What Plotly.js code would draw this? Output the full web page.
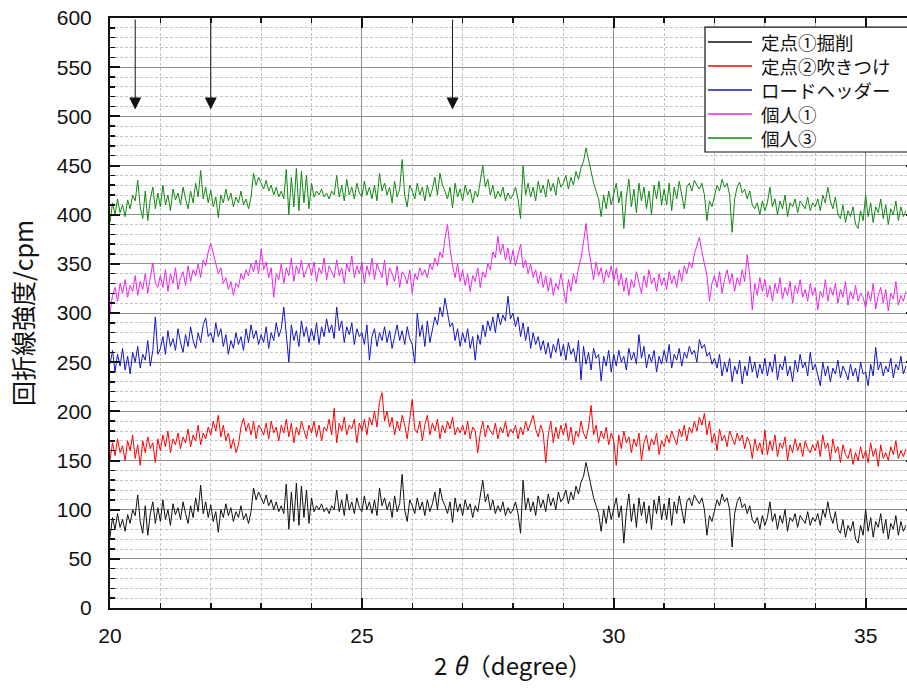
<!DOCTYPE html>
<html>
<head>
<meta charset="utf-8">
<script src="https://cdn.plot.ly/plotly-3.0.1.min.js"></script>
<style>
html, body { margin: 0; padding: 0; overflow: hidden; background: #fff; }
#chart { width: 920px; height: 690px; }
</style>
</head>
<body>
<div id="chart"></div>
<script>
// x grid of the scan (degrees 2θ)
const xStart = 20.0;
const xStep = 0.05;

// 定点①掘削 (black)
const seriesTeiten1 = [
72, 92, 80, 96, 82, 90, 78, 95, 86, 100, 94, 115, 88, 76, 104, 74, 96, 108, 86, 102,
88, 110, 90, 100, 84, 106, 95, 102, 90, 108, 96, 86, 104, 92, 112, 98, 125, 96, 108, 92,
105, 88, 98, 77, 100, 92, 106, 94, 102, 88, 98, 92, 104, 90, 96, 86, 98, 122, 110, 118,
112, 106, 115, 104, 110, 100, 108, 98, 104, 96, 126, 80, 118, 88, 127, 84, 124, 92, 120, 86,
112, 98, 104, 100, 106, 98, 102, 96, 104, 100, 120, 98, 110, 94, 116, 100, 108, 96, 112, 102,
98, 114, 100, 108, 96, 110, 94, 122, 104, 112, 100, 108, 92, 114, 98, 106, 136, 100, 88, 110,
104, 96, 112, 100, 108, 94, 110, 98, 106, 118, 100, 122, 110, 104, 96, 108, 87, 112, 98, 106,
94, 110, 100, 106, 92, 104, 98, 112, 130, 108, 116, 100, 110, 96, 104, 98, 108, 94, 102, 96,
100, 108, 96, 76, 130, 100, 112, 98, 108, 94, 114, 102, 110, 98, 116, 104, 112, 100, 118, 108,
112, 120, 106, 118, 110, 124, 116, 128, 134, 148, 136, 122, 112, 104, 96, 78, 100, 86, 104, 90,
100, 112, 92, 104, 66, 98, 116, 88, 106, 82, 112, 94, 108, 86, 104, 80, 110, 96, 114, 90,
106, 90, 112, 84, 108, 96, 114, 100, 86, 108, 112, 104, 115, 110, 106, 112, 100, 74, 94, 88,
98, 110, 104, 116, 108, 112, 100, 62, 96, 108, 113, 102, 106, 96, 104, 90, 86, 92, 80, 94,
84, 92, 108, 88, 96, 80, 94, 86, 100, 78, 92, 88, 96, 82, 94, 90, 86, 98, 84, 92,
88, 96, 84, 100, 92, 108, 94, 86, 98, 80, 76, 90, 72, 84, 78, 88, 70, 66, 84, 74,
100, 78, 92, 72, 88, 82, 96, 76, 90, 70, 86, 80, 94, 74, 88, 78, 84
];

// 定点②吹きつけ (red)
const seriesTeiten2 = [
150, 168, 155, 172, 158, 165, 150, 170, 160, 176, 152, 166, 145, 170, 158, 174, 162, 168, 148, 172,
160, 176, 164, 180, 158, 172, 166, 178, 162, 174, 168, 182, 164, 176, 170, 186, 166, 178, 172, 184,
176, 190, 180, 196, 174, 186, 170, 178, 162, 172, 158, 166, 184, 193, 180, 188, 176, 190, 172, 186,
182, 176, 188, 172, 190, 178, 184, 170, 186, 178, 192, 174, 188, 168, 184, 176, 190, 180, 172, 186,
178, 190, 174, 186, 170, 184, 180, 192, 176, 203, 168, 188, 180, 194, 176, 186, 182, 192, 168, 188,
180, 192, 176, 194, 186, 200, 184, 210, 219, 190, 200, 184, 194, 176, 190, 180, 196, 186, 172, 192,
212, 182, 178, 190, 170, 186, 196, 176, 188, 180, 192, 172, 186, 178, 190, 182, 194, 176, 184, 178,
186, 176, 190, 172, 184, 180, 158, 178, 190, 174, 186, 180, 176, 188, 172, 184, 178, 190, 174, 182,
178, 186, 172, 184, 176, 190, 180, 188, 196, 182, 174, 186, 178, 148, 176, 190, 168, 184, 172, 186,
176, 188, 170, 184, 166, 180, 174, 190, 178, 172, 184, 206, 176, 186, 168, 180, 172, 184, 166, 178,
170, 145, 176, 162, 180, 168, 174, 158, 172, 164, 178, 150, 168, 176, 160, 172, 166, 178, 156, 170,
164, 176, 168, 180, 172, 166, 182, 174, 186, 170, 184, 178, 190, 180, 194, 186, 198, 176, 190, 168,
178, 160, 182, 170, 176, 164, 180, 172, 166, 178, 170, 176, 162, 174, 168, 152, 172, 160, 168, 156,
181, 156, 170, 160, 176, 154, 168, 162, 174, 150, 166, 158, 172, 160, 168, 154, 170, 162, 158, 166,
160, 170, 154, 176, 162, 168, 150, 172, 158, 164, 148, 166, 156, 152, 162, 146, 158, 150, 164, 152,
160, 148, 168, 154, 162, 144, 166, 152, 158, 150, 164, 156, 170, 152, 160, 154, 162
];

// ロードヘッダー (blue)
const seriesRoadHeader = [
248, 262, 240, 258, 246, 264, 242, 256, 238, 260, 250, 266, 244, 258, 252, 272, 246, 262, 296, 258,
264, 276, 258, 282, 266, 274, 262, 284, 270, 260, 278, 266, 286, 272, 264, 280, 270, 288, 295, 276,
280, 270, 290, 276, 284, 266, 278, 258, 272, 264, 280, 268, 276, 262, 284, 270, 288, 274, 282, 268,
278, 270, 286, 264, 280, 272, 290, 276, 284, 306, 278, 250, 288, 272, 282, 266, 292, 276, 286, 270,
284, 272, 290, 268, 286, 276, 294, 280, 288, 274, 306, 282, 292, 270, 286, 278, 290, 268, 284, 276,
280, 268, 288, 252, 276, 284, 266, 280, 272, 286, 270, 282, 264, 278, 288, 272, 282, 268, 286, 274,
268, 249, 300, 276, 288, 266, 292, 270, 284, 296, 288, 306, 296, 315, 300, 286, 290, 272, 284, 266,
280, 270, 284, 264, 276, 252, 278, 268, 288, 276, 292, 282, 296, 280, 300, 288, 298, 292, 317, 294,
300, 286, 296, 276, 290, 272, 286, 264, 280, 268, 276, 262, 272, 258, 270, 254, 268, 260, 274, 256,
268, 252, 270, 258, 264, 250, 272, 232, 266, 248, 260, 242, 264, 254, 258, 231, 256, 246, 262, 240,
258, 246, 262, 250, 256, 242, 264, 252, 260, 248, 278, 254, 266, 244, 258, 250, 262, 240, 256, 248,
262, 250, 268, 244, 258, 252, 264, 246, 260, 254, 266, 258, 262, 250, 273, 264, 268, 256, 260, 248,
254, 244, 258, 236, 250, 240, 254, 230, 246, 238, 252, 228, 246, 236, 256, 240, 250, 234, 248, 238,
254, 236, 250, 240, 258, 232, 248, 242, 256, 236, 246, 230, 252, 240, 258, 244, 250, 236, 260, 242,
248, 238, 226, 250, 236, 246, 230, 244, 238, 252, 234, 246, 240, 232, 248, 236, 244, 230, 250, 238,
240, 226, 248, 236, 265, 242, 250, 236, 246, 240, 254, 234, 248, 242, 256, 238, 246
];

// 個人① (magenta)
const seriesKojin1 = [
300, 318, 326, 312, 330, 320, 334, 316, 328, 322, 338, 318, 332, 324, 340, 320, 336, 351, 330, 326,
338, 326, 344, 322, 340, 330, 346, 324, 336, 342, 328, 348, 332, 344, 338, 350, 336, 354, 348, 362,
371, 360, 352, 340, 346, 330, 336, 324, 332, 318, 330, 326, 340, 334, 344, 338, 350, 342, 354, 340,
365, 344, 352, 336, 346, 316, 340, 334, 350, 330, 346, 338, 356, 332, 348, 340, 354, 336, 344, 350,
338, 352, 332, 346, 340, 356, 334, 348, 342, 336, 354, 338, 346, 330, 350, 342, 358, 336, 348, 340,
352, 330, 348, 338, 356, 334, 350, 342, 336, 354, 328, 346, 340, 332, 348, 326, 342, 338, 330, 344,
320, 340, 334, 346, 338, 344, 336, 350, 344, 356, 348, 362, 356, 376, 390, 366, 348, 336, 350, 332,
344, 328, 340, 322, 338, 332, 346, 326, 342, 336, 350, 344, 362, 356, 378, 360, 370, 354, 366, 350,
364, 348, 358, 370, 346, 354, 340, 350, 336, 344, 330, 342, 326, 338, 322, 336, 318, 330, 324, 340,
326, 310, 334, 322, 340, 330, 346, 356, 372, 391, 366, 348, 334, 352, 338, 346, 330, 344, 336, 348,
332, 346, 328, 340, 322, 336, 318, 334, 326, 342, 330, 320, 338, 326, 344, 330, 336, 322, 340, 328,
336, 324, 342, 330, 338, 326, 344, 332, 348, 340, 352, 346, 360, 370, 377, 362, 350, 338, 312, 330,
338, 326, 342, 320, 334, 344, 330, 340, 322, 336, 328, 344, 332, 359, 338, 303, 330, 318, 336, 322,
334, 316, 328, 312, 330, 320, 336, 314, 326, 318, 332, 310, 328, 320, 334, 316, 324, 312, 330, 318,
326, 303, 322, 316, 334, 312, 326, 318, 330, 310, 324, 316, 332, 308, 322, 314, 328, 312, 320, 316,
305, 322, 312, 330, 304, 318, 326, 310, 324, 302, 320, 314, 332, 308, 318, 312, 322
];

// 個人③ (green)
const seriesKojin3 = [
392, 412, 400, 416, 402, 410, 398, 415, 406, 420, 414, 435, 408, 396, 424, 394, 416, 428, 406, 422,
408, 430, 410, 420, 404, 426, 415, 422, 410, 428, 416, 406, 424, 412, 432, 418, 445, 416, 428, 412,
425, 408, 418, 397, 420, 412, 426, 414, 422, 408, 418, 412, 424, 410, 416, 406, 418, 442, 430, 438,
432, 426, 435, 424, 430, 420, 428, 418, 424, 416, 446, 400, 438, 408, 447, 404, 444, 412, 440, 406,
432, 418, 424, 420, 426, 418, 422, 416, 424, 420, 440, 418, 430, 414, 436, 420, 428, 416, 432, 422,
418, 434, 420, 428, 416, 430, 414, 442, 424, 432, 420, 428, 412, 434, 418, 426, 456, 420, 408, 430,
424, 416, 432, 420, 428, 414, 430, 418, 426, 438, 420, 442, 430, 424, 416, 428, 407, 432, 418, 426,
414, 430, 420, 426, 412, 424, 418, 432, 450, 428, 436, 420, 430, 416, 424, 418, 428, 414, 422, 416,
420, 428, 416, 396, 450, 420, 432, 418, 428, 414, 434, 422, 430, 418, 436, 424, 432, 420, 438, 428,
432, 440, 426, 438, 430, 444, 436, 448, 454, 468, 456, 442, 432, 424, 416, 398, 420, 406, 424, 410,
420, 432, 412, 424, 386, 418, 436, 408, 426, 402, 432, 414, 428, 406, 424, 400, 430, 416, 434, 410,
426, 410, 432, 404, 428, 416, 434, 420, 406, 428, 432, 424, 435, 430, 426, 432, 420, 394, 414, 408,
418, 430, 424, 436, 428, 432, 420, 382, 416, 428, 433, 422, 426, 416, 424, 410, 406, 412, 400, 414,
404, 412, 428, 408, 416, 400, 414, 406, 420, 398, 412, 408, 416, 402, 414, 410, 406, 418, 404, 412,
408, 416, 404, 420, 412, 428, 414, 406, 418, 400, 396, 410, 392, 404, 398, 408, 390, 386, 404, 394,
420, 398, 412, 392, 408, 402, 416, 396, 410, 390, 406, 400, 414, 394, 408, 398, 404
];

const seriesNames = ['定点①掘削', '定点②吹きつけ', 'ロードヘッダー', '個人①', '個人③'];
const seriesColors = ['#111111', '#ff0000', '#1414c8', '#ee22ee', '#118811'];
const seriesData = [seriesTeiten1, seriesTeiten2, seriesRoadHeader, seriesKojin1, seriesKojin3];

// peak marker arrows (2θ positions), drawn from top of frame down to tip level
const arrowPositions = [20.5, 22.0, 26.8];
const arrowTop = 600;
const arrowTip = 507;

const xTickVals = [20, 25, 30, 35];
const yTickVals = [0, 50, 100, 150, 200, 250, 300, 350, 400, 450, 500, 550, 600];

const xs = seriesTeiten1.map((_, i) => +(xStart + i * xStep).toFixed(2));

const traces = seriesData.map((ys, k) => ({
  type: 'scatter',
  mode: 'lines',
  x: xs,
  y: ys,
  name: seriesNames[k],
  line: { color: seriesColors[k], width: 1 },
  showlegend: false,
  hoverinfo: 'skip'
}));

// Boxed legend in paper coordinates (as in the original figure)
const legendLeft = 0.7382, legendRight = 1.02, legendTop = 0.9847, legendBottom = 0.7729;
const legendRows = [0.95932, 0.91864, 0.87797, 0.83729, 0.79661];
const legendLineX = [0.7419, 0.7965];
const legendTextX = 0.8065;
const legendFontSize = 18.5;

const shapes = [{
  type: 'rect', xref: 'paper', yref: 'paper',
  x0: legendLeft, x1: legendRight, y0: legendBottom, y1: legendTop,
  line: { color: '#111', width: 1.2 }, fillcolor: '#fff', layer: 'above'
}];
seriesNames.forEach((nm, k) => {
  shapes.push({
    type: 'line', xref: 'paper', yref: 'paper',
    x0: legendLineX[0], x1: legendLineX[1], y0: legendRows[k], y1: legendRows[k],
    line: { color: seriesColors[k], width: 1.3 }, layer: 'above'
  });
});

const annotations = arrowPositions.map(p => ({
  x: p, y: arrowTip, xref: 'x', yref: 'y',
  ax: p, ay: arrowTop, axref: 'x', ayref: 'y',
  text: '', showarrow: true,
  arrowhead: 2, arrowsize: 2.4, arrowwidth: 1, arrowcolor: '#111'
}));
annotations.push({
  xref: 'paper', yref: 'paper', x: legendTextX, y: legendRows[2],
  xanchor: 'left', yanchor: 'middle', align: 'left', showarrow: false,
  borderpad: 0,
  text: seriesNames.join('<br>'),
  font: { family: 'Noto Sans CJK JP, sans-serif', size: legendFontSize, color: '#111' }
});

const axisFont = { family: 'Liberation Sans, Arial, sans-serif', size: 21, color: '#111' };

const layout = {
  width: 920,
  height: 690,
  margin: { l: 110, r: 4, t: 18, b: 82 },
  paper_bgcolor: '#fff',
  plot_bgcolor: '#fff',
  showlegend: false,
  xaxis: {
    range: [20, 36],
    tickvals: xTickVals,
    ticktext: xTickVals.map(String),
    ticks: 'inside', ticklen: 10, tickwidth: 2, tickcolor: '#111',
    showline: true, linewidth: 2, linecolor: '#111', mirror: 'ticks',
    showgrid: true, gridcolor: '#8f8f8f', gridwidth: 1,
    zeroline: false,
    tickfont: axisFont,
    ticklabelstandoff: 8,
    minor: { dtick: 1, ticks: 'inside', ticklen: 5, tickwidth: 1.5, tickcolor: '#111',
             showgrid: true, gridcolor: '#c4c4c4', griddash: '3px,2px', gridwidth: 1 },
    title: { text: '2 <i>θ</i>（degree）', font: { family: 'Noto Sans CJK JP, sans-serif', size: 24, color: '#111' }, standoff: 12 }
  },
  yaxis: {
    range: [0, 600],
    tickvals: yTickVals,
    ticktext: yTickVals.map(String),
    ticks: 'inside', ticklen: 10, tickwidth: 2, tickcolor: '#111',
    showline: true, linewidth: 2, linecolor: '#111', mirror: 'ticks',
    showgrid: true, gridcolor: '#8f8f8f', gridwidth: 1,
    zeroline: false,
    tickfont: axisFont,
    ticklabelstandoff: 12,
    minor: { dtick: 10, ticks: 'inside', ticklen: 5, tickwidth: 1.5, tickcolor: '#111',
             showgrid: true, gridcolor: '#c4c4c4', griddash: '3px,2px', gridwidth: 1 },
    title: { text: '回折線強度/cpm', font: { family: 'Noto Sans CJK JP, sans-serif', size: 25, color: '#111' }, standoff: 16 }
  },
  shapes: shapes,
  annotations: annotations
};

Plotly.newPlot('chart', traces, layout, { displayModeBar: false, staticPlot: true });
</script>
</body>
</html>
